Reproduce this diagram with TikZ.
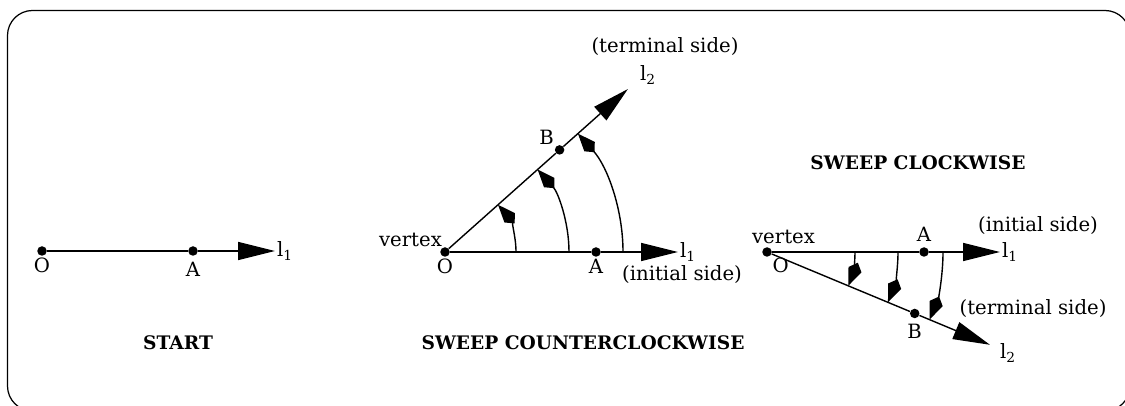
\documentclass[tikz,border=0pt]{standalone}
\usepackage{fontspec}
\setmainfont{DejaVu Serif}
\usetikzlibrary{arrows.meta}

\newcommand{\side}[1]{l\textsubscript{#1}}
\tikzset{
            pt/.style={circle,fill=black,inner sep=0pt,minimum size=0.19cm},
            ray/.style={line width=0.8pt,-{Triangle[length=0.74cm,width=0.36cm]}},
            sweep/.style={line width=0.8pt,-{Kite[length=0.5cm,width=0.28cm,inset=0.15cm]}},
            lbl/.style={font=\fontsize{11.2}{13}\selectfont,inner sep=1pt},
            title/.style={font=\fontsize{10.6}{13}\selectfont\bfseries}
        }

\begin{document}
\begin{tikzpicture}[
                    every node/.style={lbl}
                    ]
                \useasboundingbox (0,0) rectangle (22.5,8.12);
                \clip (0,0) rectangle (22.5,8.12);
                \draw[line width=0.7pt,rounded corners=0.5cm] (0.15,-0.1) rectangle (22.6,7.91);

                % start
                \node[pt,label={[lbl]below:O}] (O1) at (0.84,3.1) {};
                \node[pt,label={[lbl,yshift=-2pt]below:A}] (A1) at (3.86,3.1) {};
                \coordinate (T1) at (5.5,3.1);
                \draw[line width=0.8pt] (O1) -- (A1);
                \draw[ray] (A1) -- (T1);
                \node[anchor=west] at (T1) {\side{1}};
                \node[title] at (3.56,1.26) {START};

                % counterclockwise
                \node[pt,label={[lbl]below:O}] (O2) at (8.9,3.08) {};
                \node[anchor=south east] at (8.88,3.14) {vertex};
                \node[pt,label={[lbl]below:A}] (A2) at (11.92,3.08) {};
                \coordinate (T2) at (13.56,3.08);
                \path (O2) ++(41.7:3.07) node[pt,label={[lbl]above left:B}] (B2) {};
                \path (O2) ++(41.7:4.9) coordinate (U2);
                \draw[line width=0.8pt] (O2) -- (A2);
                \draw[ray] (A2) -- (T2);
                \draw[line width=0.8pt] (O2) -- (B2);
                \draw[ray] (B2) -- (U2);
                \node[anchor=west] at (T2) {\side{1}};
                \node at (13.64,2.62) {(initial side)};
                \node at (12.96,6.62) {\side{2}};
                \node at (13.3,7.18) {(terminal side)};
                \foreach \r in {1.42,2.48,3.56}
                    \draw[sweep] (O2) ++(0:\r) arc[start angle=0,end angle=41.7,radius=\r];
                \node[title] at (11.66,1.26) {SWEEP COUNTERCLOCKWISE};

                % clockwise
                \node[pt,label={[lbl]below right:O}] (O3) at (15.34,3.08) {};
                \node[anchor=south west] at (15.0,3.2) {vertex};
                \node[pt,label={[lbl,yshift=2pt]above:A}] (A3) at (18.48,3.08) {};
                \coordinate (T3) at (20.0,3.08);
                \path (O3) ++(-22.6:3.2) node[pt,label={[lbl,yshift=-2pt]below:B}] (B3) {};
                \path (O3) ++(-22.6:4.83) coordinate (U3);
                \draw[line width=0.8pt] (O3) -- (A3);
                \draw[ray] (A3) -- (T3);
                \draw[line width=0.8pt] (O3) -- (B3);
                \draw[ray] (B3) -- (U3);
                \node[anchor=west] at (T3) {\side{1}};
                \node at (20.76,3.6) {(initial side)};
                \node at (20.66,1.94) {(terminal side)};
                \node at (20.16,1.06) {\side{2}};
                \foreach \r in {1.76,2.62,3.52}
                    \draw[sweep] (O3) ++(0:\r) arc[start angle=0,end angle=-22.6,radius=\r];
                \node[title] at (18.36,4.86) {SWEEP CLOCKWISE};
            \end{tikzpicture}
\end{document}
